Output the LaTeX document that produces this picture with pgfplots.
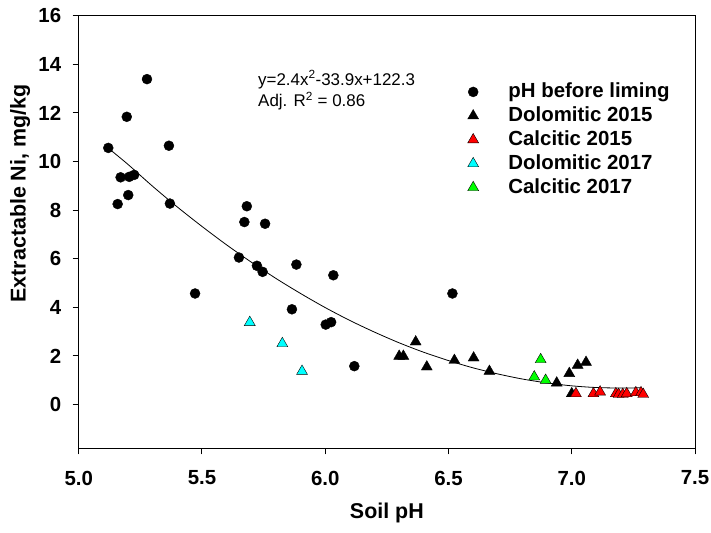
\documentclass[border=0pt]{standalone}
\usepackage{fontspec}
\setmainfont{Liberation Sans}
\usepackage{pgfplots}
\pgfplotsset{compat=1.18}
\definecolor{cyanmk}{RGB}{0,255,255}
\definecolor{greenmk}{RGB}{0,255,0}
\definecolor{redmk}{RGB}{255,0,0}
\pgfplotsset{
  mk/.style={only marks,
    legend image code/.code={\path (0bp,0bp) (42bp,0bp);
      \draw[mark repeat=2,mark phase=2,##1] plot coordinates {(0bp,0bp) (8bp,0bp) (16bp,0bp)};}},
}
\begin{document}
\begin{tikzpicture}
\useasboundingbox (-78.7bp,-84.7bp) rectangle (632.3bp,448.3bp);
\begin{axis}[
    scale only axis,
    width=616.3bp, height=432.6bp,
    xmin=5, xmax=7.5, ymin=-1.8, ymax=16,
    xtick={5,5.5,6,6.5,7,7.5},
    ytick={0,2,4,6,8,10,12,14,16},
    xtick pos=bottom, ytick pos=left,
    tick align=outside,
    major tick length=6bp,
    axis line style={line width=1bp},
    tick style={line width=1bp, black},
    /pgf/number format/assume math mode=true,
    xticklabel style={/pgf/number format/.cd, fixed, fixed zerofill, precision=1, /tikz/.cd, yshift=-13bp},
    yticklabel style={xshift=-8bp},
    ticklabel style={font=\bfseries\fontsize{20.5}{24}\selectfont},
    xlabel={Soil pH},
    ylabel={Extractable Ni, mg/kg},
    label style={font=\bfseries\fontsize{21.5}{25}\selectfont},
    xlabel style={at={(axis description cs:0.5,0)}, anchor=base, yshift=-70.4bp},
    ylabel style={at={(axis description cs:-0.0863,0.589)}, anchor=base},
    legend style={at={(rel axis cs:0.6268,0.848)}, anchor=north west,
      draw=none, fill=none, inner sep=0pt, outer sep=0pt,
      font=\bfseries\fontsize{20.5}{24}\selectfont,
      nodes={inner sep=1pt, text height=15pt, text depth=4pt},
      row sep=3pt},
    legend cell align=left,
]
% fitted quadratic curve
\addplot[black, line width=0.8bp, smooth, forget plot] coordinates {
  (5.12,10.55) (5.2,9.88) (5.3,8.98) (5.4,8.13) (5.5,7.33) (5.6,6.57)
  (5.7,5.86) (5.8,5.19) (5.9,4.57) (6.0,3.99) (6.1,3.46) (6.2,2.98)
  (6.3,2.54) (6.4,2.15) (6.5,1.81) (6.6,1.51) (6.7,1.26) (6.8,1.05)
  (6.9,0.89) (7.0,0.77) (7.1,0.70) (7.2,0.68) (7.28,0.69)
};
\addplot[mk, mark=*, mark size=5bp, black] coordinates {
  (5.12,10.56) (5.277,13.39) (5.195,11.84) (5.366,10.65) (5.17,9.35)
  (5.205,9.37) (5.225,9.45) (5.158,8.25) (5.201,8.62) (5.37,8.27)
  (5.682,8.16) (5.672,7.51) (5.756,7.44) (5.65,6.05) (5.723,5.71)
  (5.883,5.76) (5.746,5.46) (5.472,4.57) (5.865,3.92) (6.033,5.32)
  (6.002,3.29) (6.024,3.39) (6.118,1.58) (6.516,4.57)
};
\addplot[mk, mark=triangle*, mark size=6.3bp, black] coordinates {
  (6.30,1.99) (6.317,1.99) (6.367,2.58) (6.412,1.55) (6.524,1.82)
  (6.602,1.92) (6.666,1.37) (6.939,0.89) (6.99,1.28) (7.024,1.62)
  (7.058,1.74) (7.0,0.45)
};
\addplot[mk, mark=triangle*, mark size=6.3bp, draw=black, fill=redmk] coordinates {
  (7.017,0.45) (7.088,0.45) (7.115,0.52) (7.179,0.45) (7.19,0.42)
  (7.207,0.42) (7.223,0.45) (7.26,0.49) (7.281,0.49) (7.29,0.42)
};
\addplot[mk, mark=triangle*, mark size=6.3bp, draw=black, fill=cyanmk] coordinates {
  (5.694,3.38) (5.826,2.51) (5.906,1.37)
};
\addplot[mk, mark=triangle*, mark size=6.3bp, draw=black, fill=greenmk] coordinates {
  (6.874,1.85) (6.848,1.14) (6.894,1.0)
};
\legend{pH before liming, Dolomitic 2015, Calcitic 2015, Dolomitic 2017, Calcitic 2017}
\node[anchor=base west, inner sep=0pt, font=\fontsize{17}{20}\selectfont] at (axis cs:5.7274,13.145) {y=2.4x\textsuperscript{2}-33.9x+122.3};
\node[anchor=base west, inner sep=0pt, font=\fontsize{17}{20}\selectfont] at (axis cs:5.7274,12.25) {Adj. R\textsuperscript{2} = 0.86};
\end{axis}
\end{tikzpicture}
\end{document}
